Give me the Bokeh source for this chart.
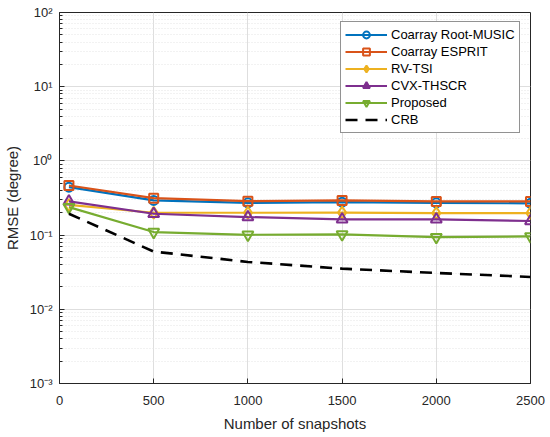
from bokeh.plotting import figure
from bokeh.models import FixedTicker, Range1d
from bokeh.embed import file_html
from bokeh.resources import INLINE

snapshots = [50, 500, 1000, 1500, 2000, 2500]
root_music = [0.443, 0.293, 0.272, 0.278, 0.272, 0.268]
esprit = [0.466, 0.315, 0.287, 0.293, 0.284, 0.284]
rv_tsi = [0.255, 0.200, 0.200, 0.201, 0.198, 0.198]
cvx_thscr = [0.285, 0.194, 0.175, 0.163, 0.163, 0.155]
proposed = [0.238, 0.110, 0.101, 0.102, 0.094, 0.096]
crb = [0.194, 0.060, 0.0435, 0.0353, 0.0309, 0.0273]

x_ticks = [0, 500, 1000, 1500, 2000, 2500]
y_ticks = [1e-3, 1e-2, 1e-1, 1e0, 1e1, 1e2]
y_tick_labels = ["10\u207b\u00b3", "10\u207b\u00b2", "10\u207b\u00b9", "10\u2070", "10\u00b9", "10\u00b2"]

FONT = "Liberation Sans"

p = figure(frame_width=471, frame_height=371, y_axis_type="log",
           x_range=Range1d(0, 2500), y_range=Range1d(1e-3, 1e2),
           output_backend="svg", toolbar_location=None,
           min_border_left=50, min_border_right=16, min_border_top=12, min_border_bottom=40)
p.background_fill_color = "white"
p.border_fill_color = "white"
p.outline_line_color = "#262626"
p.outline_line_width = 1

minor = [m * 10.0 ** e for e in range(-3, 2) for m in range(2, 10)]
p.xaxis.ticker = FixedTicker(ticks=x_ticks)
p.yaxis.ticker = FixedTicker(ticks=y_ticks, minor_ticks=minor)
p.yaxis.major_label_overrides = {t: l for t, l in zip(y_ticks, y_tick_labels)}

for ax in (p.xaxis[0], p.yaxis[0]):
    ax.major_tick_in = 5
    ax.major_tick_out = 0
    ax.minor_tick_in = 3
    ax.minor_tick_out = 0
    ax.axis_line_color = "#262626"
    ax.major_tick_line_color = "#262626"
    ax.minor_tick_line_color = "#262626"
    ax.major_label_text_font = FONT
    ax.major_label_text_font_size = "13px"
    ax.major_label_text_color = "#262626"
    ax.axis_label_text_font = FONT
    ax.axis_label_text_font_size = "15px"
    ax.axis_label_text_font_style = "normal"
    ax.axis_label_text_color = "#262626"

p.xaxis.major_label_standoff = 12
p.yaxis.major_label_standoff = 7
p.xaxis.axis_label = "Number of snapshots"
p.yaxis.axis_label = "RMSE (degree)"
p.xaxis.axis_label_standoff = 7
p.yaxis.axis_label_standoff = 6

p.xgrid.grid_line_color = "#dedede"
p.ygrid.grid_line_color = "#dedede"
p.ygrid.minor_grid_line_color = "#e4e4e4"
p.ygrid.minor_grid_line_dash = "1 2"

series = [
    ("Coarray Root-MUSIC", root_music, "#0072BD", "circle", 9),
    ("Coarray ESPRIT", esprit, "#D95319", "square", 9),
    ("RV-TSI", rv_tsi, "#EDB120", "diamond", 12),
    ("CVX-THSCR", cvx_thscr, "#7E2F8E", "triangle", 11),
    ("Proposed", proposed, "#77AC30", "inverted_triangle", 11),
]
for name, ys, color, marker, size in series:
    p.line(snapshots, ys, line_color=color, line_width=2.2, legend_label=name)
    p.scatter(snapshots, ys, marker=marker, size=size, line_color=color, line_width=2,
              fill_alpha=0, legend_label=name)

p.line(snapshots, crb, line_color="black", line_width=2.6, line_dash="12 8", legend_label="CRB")

lg = p.legend[0]
lg.location = (281, 250)
lg.padding = 4
lg.spacing = 0
lg.label_height = 17
lg.glyph_height = 17
lg.glyph_width = 42
lg.label_standoff = 4
lg.label_text_font = FONT
lg.label_text_font_size = "13px"
lg.label_text_color = "#000000"
lg.border_line_color = "#262626"
lg.border_line_width = 1
lg.background_fill_alpha = 1

open("out.html", "w").write(file_html(p, INLINE))
